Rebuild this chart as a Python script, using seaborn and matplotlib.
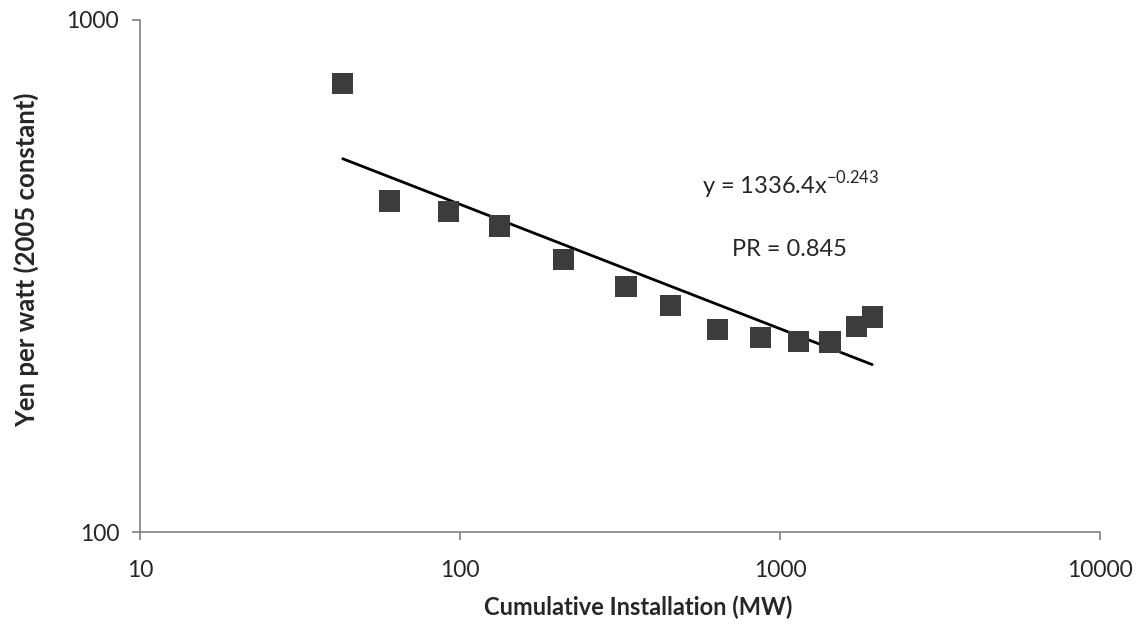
import numpy as np
import pandas as pd
import matplotlib
matplotlib.use("Agg")
import matplotlib.pyplot as plt
import seaborn as sns
from matplotlib.ticker import NullLocator

# Data
installation_mw = [43, 60, 92, 133, 210, 330, 453, 636, 866, 1138, 1432, 1728, 1939]
yen_per_watt = [750, 443, 422, 396, 341, 302, 277, 249, 240, 236, 235, 252, 263]

# Power-law trend shown on the chart
coef = 1336.4
expo = -0.243

df = pd.DataFrame({'MW': installation_mw, 'Yen': yen_per_watt})

sns.set_style("white")
plt.rcParams['font.family'] = ['Lato', 'DejaVu Sans']
plt.rcParams['mathtext.fontset'] = 'custom'
plt.rcParams['mathtext.rm'] = 'Lato'

fig = plt.figure(figsize=(11.43, 6.32), dpi=100)
ax = fig.add_axes([0.1225, 0.1582, 0.84, 0.8102])

# trend line across the data range
xs = np.logspace(np.log10(min(installation_mw)), np.log10(max(installation_mw)), 100)
ax.plot(xs, coef * xs ** expo, color='black', lw=2, zorder=2)

sns.scatterplot(data=df, x='MW', y='Yen', marker='s', s=230, color='#3c3c3c',
                edgecolor='none', ax=ax, zorder=3)

ax.set_xscale('log')
ax.set_yscale('log')
ax.set_xlim(10, 10000)
ax.set_ylim(100, 1000)
ax.set_xticks([10, 100, 1000, 10000], ['10', '100', '1000', '10000'])
ax.set_yticks([100, 1000], ['100', '1000'])
ax.xaxis.set_minor_locator(NullLocator())
ax.yaxis.set_minor_locator(NullLocator())

for side in ['top', 'right']:
    ax.spines[side].set_visible(False)
for side in ['left', 'bottom']:
    ax.spines[side].set_color('#808080')
    ax.spines[side].set_linewidth(1.2)

ax.tick_params(axis='both', which='major', direction='out', length=6, width=1.2,
               color='#808080', labelsize=16.5, pad=14, left=True, bottom=True)
ax.tick_params(axis='y', pad=9)

ax.set_xlabel('Cumulative Installation (MW)', fontsize=17, fontweight='bold')
ax.set_ylabel('Yen per watt (2005 constant)', fontsize=18.5, fontweight='bold')
ax.xaxis.set_label_coords(0.519, -0.125)
ax.yaxis.set_label_coords(-0.105, 0.531)

ax.text(570, 476, r'y = 1336.4x$^{\mathregular{-0.243}}$', fontsize=17, ha='left', va='center')
ax.text(1072, 356, 'PR = 0.845', fontsize=17, ha='center', va='center')

fig.savefig('out.png', dpi=100)
